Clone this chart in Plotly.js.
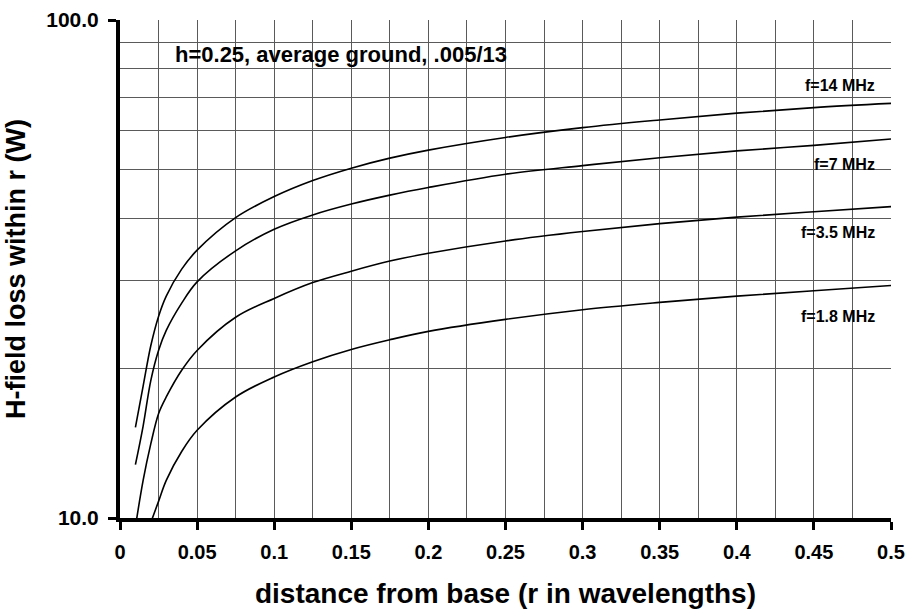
<!DOCTYPE html>
<html>
<head>
<meta charset="utf-8">
<script src="https://cdn.plot.ly/plotly-3.0.1.min.js"></script>
<style>html,body{margin:0;padding:0;background:#fff;}#chart{width:908px;height:609px;}</style>
</head>
<body>
<div id="chart"></div>
<script>
// distance from base (r in wavelengths)
const rValues = [0.01, 0.015, 0.02, 0.025, 0.03, 0.04, 0.05, 0.075, 0.1, 0.125, 0.15, 0.175, 0.2, 0.25, 0.3, 0.35, 0.4, 0.45, 0.5];
// H-field loss within r (W)
const loss14 = [15.2, 18.4, 22.2, 25.4, 27.9, 31.6, 34.5, 40.1, 44.2, 47.6, 50.4, 52.8, 54.8, 58.1, 60.8, 63.0, 65.0, 66.7, 68.0];
const loss7  = [12.8, 15.3, 18.9, 21.7, 23.8, 27.0, 29.8, 34.4, 38.0, 40.6, 42.7, 44.5, 46.1, 49.0, 51.0, 52.9, 54.6, 56.0, 57.7];
const loss35 = [9.6, 11.9, 14.1, 16.2, 17.5, 19.8, 21.7, 25.3, 27.6, 29.7, 31.3, 32.8, 34.0, 36.0, 37.6, 39.0, 40.2, 41.2, 42.2];
const r18 = [0.02, 0.025, 0.03, 0.04, 0.05, 0.075, 0.1, 0.125, 0.15, 0.175, 0.2, 0.25, 0.3, 0.35, 0.4, 0.45, 0.5];
const loss18 = [9.8, 10.8, 11.9, 13.6, 15.0, 17.5, 19.2, 20.6, 21.8, 22.8, 23.7, 25.05, 26.2, 27.1, 27.9, 28.6, 29.3];
const seriesNames = ['f=14 MHz', 'f=7 MHz', 'f=3.5 MHz', 'f=1.8 MHz'];
const yTickVals = [10, 100];
const yTickText = ['10.0', '100.0'];
const yGridVals = [20, 30, 40, 50, 60, 70, 80, 90];
const xTickVals = [0, 0.05, 0.1, 0.15, 0.2, 0.25, 0.3, 0.35, 0.4, 0.45, 0.5];
const xTickText = ['0', '0.05', '0.1', '0.15', '0.2', '0.25', '0.3', '0.35', '0.4', '0.45', '0.5'];
const noteText = 'h=0.25, average ground, .005/13';

const FONT = 'Arial, "Liberation Sans", sans-serif';
const lineStyle = {color: '#000', width: 1.6, shape: 'spline', smoothing: 1};
const xs = [rValues, rValues, rValues, r18];
const ys = [loss14, loss7, loss35, loss18];
const traces = ys.map((y, i) => ({
  x: xs[i], y: y, type: 'scatter', mode: 'lines', name: seriesNames[i],
  line: lineStyle, hoverinfo: 'skip'
}));

// label placement (log10 of y position on the axis)
const labelPosY = [1.8675, 1.7108, 1.5723, 1.4056];
const labelAnn = seriesNames.map((name, i) => ({
  x: 0.4912, y: labelPosY[i], xref: 'x', yref: 'y',
  text: '<b>' + name + '</b>', showarrow: false, xanchor: 'right', yanchor: 'middle',
  font: {family: FONT, size: 16, color: '#000'}
}));

const layout = {
  width: 908, height: 609,
  margin: {l: 120, r: 17, t: 20, b: 91},
  paper_bgcolor: '#fff', plot_bgcolor: '#fff',
  showlegend: false,
  font: {family: FONT, color: '#000'},
  xaxis: {
    range: [0, 0.5], tickmode: 'array', tickvals: xTickVals, ticktext: xTickText,
    ticks: 'outside', ticklen: 8, tickwidth: 3, tickcolor: '#000',
    ticklabelstandoff: 5,
    tickfont: {family: FONT, size: 20, weight: 'bold', color: '#000'},
    showline: true, linecolor: '#000', linewidth: 4,
    showgrid: true, gridcolor: '#5a5a5a', gridwidth: 1,
    minor: {dtick: 0.025, tick0: 0, showgrid: true, gridcolor: '#5a5a5a', gridwidth: 1, ticks: ''},
    zeroline: false,
    title: {text: '<b>distance from base (r in wavelengths)</b>', font: {family: FONT, size: 28, color: '#000'}, standoff: 22}
  },
  yaxis: {
    type: 'log', range: [1, 2], tickmode: 'array', tickvals: yTickVals, ticktext: yTickText,
    ticks: 'outside', ticklen: 8, tickwidth: 3, tickcolor: '#000',
    ticklabelstandoff: 5,
    tickfont: {family: FONT, size: 21, weight: 'bold', color: '#000'},
    showline: true, linecolor: '#000', linewidth: 4,
    showgrid: true, gridcolor: '#5a5a5a', gridwidth: 1,
    minor: {tickmode: 'array', tickvals: yGridVals, showgrid: true, gridcolor: '#5a5a5a', gridwidth: 1, ticks: ''},
    zeroline: false,
    title: {text: '<b>H-field loss within r (W)</b>', font: {family: FONT, size: 27, color: '#000'}, standoff: 14}
  },
  annotations: [{
    x: 0.0345, y: 1.93, xref: 'x', yref: 'y', xanchor: 'left', yanchor: 'middle',
    text: '<b>' + noteText + '</b>', showarrow: false,
    font: {family: FONT, size: 22, color: '#000'}
  }].concat(labelAnn)
};

Plotly.newPlot('chart', traces, layout, {staticPlot: true, displayModeBar: false});
</script>
</body>
</html>
